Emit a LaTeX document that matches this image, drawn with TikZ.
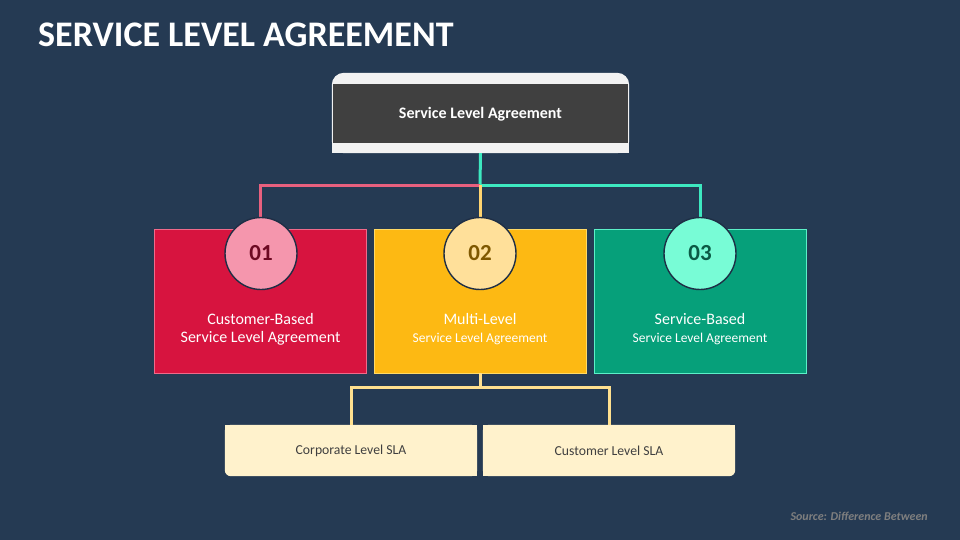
\documentclass[tikz,border=0pt]{standalone}
\usepackage{fontspec}
\setmainfont{Carlito}
\definecolor{bg}{HTML}{253A53}
\definecolor{lightgr}{HTML}{F2F2F2}
\definecolor{darkgr}{HTML}{404040}
\definecolor{crim}{HTML}{D7143F}
\definecolor{crimB}{HTML}{F06A8A}
\definecolor{ylw}{HTML}{FDB913}
\definecolor{ylwB}{HTML}{FFD966}
\definecolor{grn}{HTML}{06A07A}
\definecolor{grnB}{HTML}{5CF0C8}
\definecolor{cpink}{HTML}{F596AD}
\definecolor{cylw}{HTML}{FFE09A}
\definecolor{cteal}{HTML}{78FCD6}
\definecolor{npink}{HTML}{6D0A23}
\definecolor{nylw}{HTML}{7F5800}
\definecolor{nteal}{HTML}{0B5A45}
\definecolor{lpink}{HTML}{E8607E}
\definecolor{lteal}{HTML}{3DE8C0}
\definecolor{lylw}{HTML}{FFD470}
\definecolor{lcream}{HTML}{FFE08F}
\definecolor{cream}{HTML}{FFF2CC}
\definecolor{srcgr}{HTML}{7F7F7F}
\definecolor{ring}{HTML}{1E2E45}
\tikzset{
  catbox/.style={rectangle, minimum width=212pt, minimum height=144pt, line width=0.8pt, inner sep=0pt},
  numcirc/.style={circle, minimum size=72pt, inner sep=0pt, draw=ring, line width=1.4pt, font=\fontsize{23}{25}\selectfont\bfseries},
  conn/.style={line width=3pt},
  cattext/.style={align=center, text=white, inner sep=0pt, font=\fontsize{13.5}{18}\selectfont},
  subbox/.style={rectangle, minimum width=252pt, minimum height=51pt, inner sep=0pt},
  subtext/.style={text=darkgr, inner sep=0pt, font=\fontsize{13.7}{16}\selectfont}
}
\begin{document}
\begin{tikzpicture}[x=1pt,y=-1pt]
\fill[bg] (0,0) rectangle (960,540);
\useasboundingbox (0,0) rectangle (960,540);
% title
\node[anchor=base west, text=white, inner sep=0pt, font=\fontsize{36}{40}\selectfont\bfseries] (title) at (38,47) {SERVICE LEVEL AGREEMENT};
% top box
\node[rectangle, minimum width=297pt, minimum height=80pt, inner sep=0pt] (topbox) at (480.5,113) {};
\fill[lightgr, rounded corners=12pt] (topbox.north west) rectangle (topbox.south east);
\fill[lightgr] ([yshift=-14pt]topbox.north west) rectangle (topbox.south east);
\node[rectangle, fill=darkgr, minimum width=295pt, minimum height=59pt, inner sep=0pt] (topdark) at (480.5,113.5) {};
\node[text=white, inner sep=0pt, font=\fontsize{16}{18}\selectfont\bfseries, anchor=base] (toptext) at (480.5,118.5) {Service Level Agreement};
% category boxes
\node[catbox, fill=crim, draw=crimB] (b1) at (260.5,301) {};
\node[catbox, fill=ylw, draw=ylwB] (b2) at (480,301) {};
\node[catbox, fill=grn, draw=grnB] (b3) at (700,301) {};
% connectors
\coordinate (j) at (480,185);
\draw[conn, lteal] (topbox.south) -- (j);
\draw[conn, lpink] (j) -| (260,220);
\draw[conn, lteal] (j) -| (700,220);
\draw[conn, lylw] (j) -- (480,220);
% circles
\node[numcirc, fill=cpink, text=npink] (c1) at (261,253.5) {01};
\node[numcirc, fill=cylw, text=nylw] (c2) at (480,253.5) {02};
\node[numcirc, fill=cteal, text=nteal] (c3) at (700,253.5) {03};
% category text
\node[cattext, font=\fontsize{16}{18}\selectfont] (t1) at ([yshift=-28pt]b1.center) {Customer-Based\\Service Level Agreement};
\node[cattext] (t2) at ([yshift=-28pt]b2.center) {{\fontsize{16}{18}\selectfont Multi-Level}\\{\fontsize{13.5}{18}\selectfont Service Level Agreement}};
\node[cattext] (t3) at ([yshift=-28pt]b3.center) {{\fontsize{16}{18}\selectfont Service-Based}\\{\fontsize{13.5}{18}\selectfont Service Level Agreement}};
% sub boxes
\node[subbox] (s1) at (351,450.5) {};
\node[subbox] (s2) at (609,450.5) {};
\fill[cream, rounded corners=6pt] (s1.north west) rectangle (s1.south east);
\fill[cream] (s1.north west) rectangle ([yshift=7pt]s1.south east);
\fill[cream] ([xshift=7pt]s1.north west) rectangle (s1.south east);
\fill[cream, rounded corners=6pt] (s2.north west) rectangle (s2.south east);
\fill[cream] (s2.north west) rectangle ([yshift=7pt]s2.south east);
\fill[cream] (s2.north west) rectangle ([xshift=-7pt]s2.south east);
\node[subtext] (s1t) at (s1.center) {Corporate Level SLA};
\node[subtext] (s2t) at (s2.center) {Customer Level SLA};
% bottom connectors
\coordinate (k) at (480,387);
\draw[conn, lcream] (b2.south) -- (k);
\draw[conn, lcream] (k) -| (s1.north);
\draw[conn, lcream] (k) -| (s2.north);
% source
\node[anchor=base east, text=srcgr, inner sep=0pt, font=\fontsize{12}{14}\selectfont\bfseries\itshape] (src) at (928,520) {Source: Difference Between};
\end{tikzpicture}
\end{document}
